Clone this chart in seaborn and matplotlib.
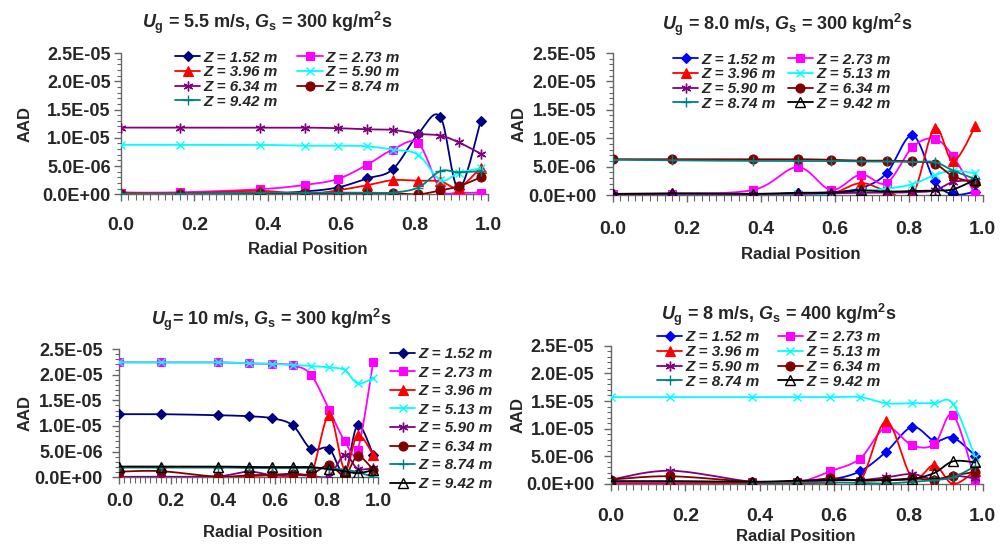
import numpy as np
import pandas as pd
import matplotlib
matplotlib.use("Agg")
import matplotlib.pyplot as plt
import seaborn as sns
from matplotlib.lines import Line2D
from matplotlib.ticker import MultipleLocator, FuncFormatter

# ---------------- data (AAD values in units of 1e-6) ----------------
radial = [0.0, 0.16, 0.38, 0.50, 0.59, 0.67, 0.74, 0.81, 0.87, 0.92, 0.98]

# Panel A : Ug = 5.5 m/s, Gs = 300
a_labels = ["1.52", "2.73", "3.96", "5.90", "6.34", "8.74", "9.42"]
a_s1 = [0.1, 0.1, 0.1, 0.5, 1.2, 2.8, 4.4, 10.7, 13.7, 1.0, 13.0]
a_s2 = [0.3, 0.35, 0.9, 1.65, 2.7, 5.2, 7.9, 9.0, 0.9, 0.3, 0.3]
a_s3 = [0.3, 0.2, 0.6, 0.0, 0.7, 1.6, 2.5, 2.4, 2.3, 1.2, 4.7]
a_s4 = [8.75, 8.75, 8.75, 8.6, 8.6, 8.5, 7.9, 7.0, 2.5, 3.8, 4.6]
a_s5 = [11.8, 11.8, 11.8, 11.8, 11.7, 11.5, 11.4, 10.7, 10.4, 9.2, 7.2]
a_s6 = [0.0, 0.1, 0.2, 0.2, 0.2, 0.2, 0.2, 0.0, 0.7, 1.4, 3.0]
a_s7 = [0.1, 0.1, 0.3, 0.3, 0.3, 0.3, 0.3, 1.2, 4.1, 3.9, 4.1]

# Panel B : Ug = 8.0 m/s, Gs = 300
b_labels = ["1.52", "2.73", "3.96", "5.13", "5.90", "6.34", "8.74", "9.42"]
b_s1 = [0.1, 0.1, 0.1, 0.3, 0.5, 1.2, 3.8, 10.5, 2.5, 0.1, 0.6]
b_s2 = [0.1, 0.2, 0.9, 4.9, 0.9, 3.6, 2.1, 8.4, 9.9, 6.8, 0.1]
b_s3 = [0.1, 0.1, 0.1, 0.0, 0.2, 2.1, 0.7, 0.0, 11.8, 6.0, 12.1]
b_s4 = [0.0, 0.0, 0.0, 0.1, 0.2, 0.7, 1.1, 1.9, 3.5, 4.3, 3.8]
b_s5 = [0.1, 0.2, 0.2, 0.2, 0.3, 0.4, 0.4, 0.5, 0.8, 2.3, 2.6]
b_s6 = [6.3, 6.3, 6.3, 6.3, 6.2, 6.05, 6.05, 5.9, 5.5, 3.3, 2.1]
b_s7 = [6.2, 6.1, 6.0, 6.0, 6.0, 5.9, 5.9, 5.8, 5.8, 4.3, 2.8]
b_s8 = [0.2, 0.3, 0.2, 0.4, 0.4, 0.8, 0.6, 0.7, 0.8, 1.0, 2.7]

# Panel C : Ug = 10 m/s, Gs = 300
c_labels = ["1.52", "2.73", "3.96", "5.13", "5.90", "6.34", "8.74", "9.42"]
c_s1 = [12.3, 12.3, 12.1, 11.9, 11.5, 10.1, 5.5, 5.6, 0.8, 10.1, 4.4]
c_s2 = [22.4, 22.4, 22.4, 22.2, 22.1, 21.8, 20.0, 13.2, 7.1, 5.3, 22.4]
c_s3 = [0.0, 0.0, 0.1, 0.2, 0.4, 0.1, 0.5, 12.1, 1.5, 8.2, 4.4]
c_s4 = [22.4, 22.4, 22.4, 22.2, 22.1, 21.9, 21.7, 21.4, 20.9, 18.3, 19.3]
c_s5 = [0.1, 0.1, 0.2, 1.1, 0.4, 0.5, 0.3, 0.3, 4.4, 1.7, 1.8]
c_s6 = [1.1, 1.2, 0.1, 0.4, 0.5, 0.7, 0.6, 2.4, 0.4, 4.1, 1.5]
c_s7 = [1.9, 1.9, 1.9, 1.8, 1.8, 1.8, 1.8, 1.7, 1.5, 1.0, 0.1]
c_s8 = [2.1, 2.1, 2.1, 2.0, 2.0, 2.0, 2.0, 1.6, 1.2, 0.8, 1.4]

# Panel D : Ug = 8 m/s, Gs = 400
d_labels = ["1.52", "2.73", "3.96", "5.13", "5.90", "6.34", "8.74", "9.42"]
d_s1 = [0.3, 0.2, 0.2, 0.4, 0.8, 2.3, 5.8, 10.3, 7.8, 8.4, 5.1]
d_s2 = [0.3, 0.3, 0.3, 0.3, 2.3, 4.6, 10.2, 7.0, 7.2, 12.5, 0.6]
d_s3 = [0.0, 0.0, 0.2, 0.1, 0.0, 0.5, 11.3, 1.2, 3.4, 0.0, 2.4]
d_s4 = [15.7, 15.7, 15.7, 15.7, 15.7, 15.7, 14.6, 14.6, 14.6, 14.5, 4.8]
d_s5 = [0.8, 2.4, 0.4, 0.5, 0.7, 0.7, 1.2, 1.8, 0.8, 1.5, 1.0]
d_s6 = [0.8, 1.4, 0.4, 0.4, 1.0, 0.6, 0.7, 1.0, 0.8, 1.5, 2.2]
d_s7 = [0.5, 0.5, 0.3, 0.3, 0.3, 0.2, 0.1, 0.4, 0.7, 1.2, 3.2]
d_s8 = [0.5, 0.5, 0.4, 0.6, 0.7, 0.7, 0.7, 0.9, 2.0, 4.1, 3.9]

titles = [r"$U_\mathrm{g}$ = 5.5 m/s, $G_\mathrm{s}$ = 300 kg/m$^\mathrm{2}$s",
          r"$U_\mathrm{g}$ = 8.0 m/s, $G_\mathrm{s}$ = 300 kg/m$^\mathrm{2}$s",
          r"$U_\mathrm{g}$= 10 m/s, $G_\mathrm{s}$ = 300 kg/m$^\mathrm{2}$s",
          r"$U_\mathrm{g}$ = 8 m/s, $G_\mathrm{s}$ = 400 kg/m$^\mathrm{2}$s"]

# ---------------- styles ----------------
sns.set_theme(style="white")
plt.rcParams["font.family"] = ["Liberation Sans", "DejaVu Sans"]
plt.rcParams["font.weight"] = "bold"
plt.rcParams["mathtext.fontset"] = "custom"
plt.rcParams["mathtext.rm"] = "Liberation Sans:bold"
plt.rcParams["mathtext.it"] = "Liberation Sans:bold:italic"
plt.rcParams["mathtext.bf"] = "Liberation Sans:bold"

STAR = (6, 2, 0)
# (color, marker, size, filled)
style_a = [("#000080", "D", 5.5, True), ("#FF00FF", "s", 6, True), ("#FF0000", "^", 7, True),
           ("#00FFFF", "x", 6, False), ("#800080", STAR, 7, False), ("#800000", "o", 6.5, True),
           ("#008080", "+", 7, False)]
style_b = [("#0000FF", "D", 5.5, True), ("#FF00FF", "s", 6, True), ("#FF0000", "^", 7, True),
           ("#00FFFF", "x", 6, False), ("#800080", STAR, 7, False), ("#800000", "o", 6.5, True),
           ("#008080", "+", 7, False), ("#000000", "^", 7, "open")]
style_c = [("#000080",) + style_b[0][1:]] + style_b[1:]


def smooth(x, y, n=18):
    P = np.column_stack([np.asarray(x, float), np.asarray(y, float)])
    E = np.vstack([P[0], P, P[-1]])
    out = []
    for i in range(len(P) - 1):
        p0, p1, p2, p3 = E[i], E[i + 1], E[i + 2], E[i + 3]
        c1 = p1 + (p2 - p0) / 6.0
        c2 = p2 - (p3 - p1) / 6.0
        t = np.linspace(0, 1, n, endpoint=(i == len(P) - 2))[:, None]
        out.append((1 - t) ** 3 * p1 + 3 * (1 - t) ** 2 * t * c1 + 3 * (1 - t) * t ** 2 * c2 + t ** 3 * p2)
    return np.vstack(out)


fig = plt.figure(figsize=(10.06, 5.47), dpi=100)

panels = [
    dict(rect=[121/1006, 1-194.3/547, 367/1006, 141.3/547], labels=a_labels,
         series=[a_s1, a_s2, a_s3, a_s4, a_s5, a_s6, a_s7], styles=style_a,
         title_xy=(0.398, 1.212), ylab_x=-0.24, xlab=(0.508, -0.338), xpad=11, ypad=2.5,
         leg=dict(ncol=2, anchor=(175/1006, 1-50.5/547), colsp=1.3)),
    dict(rect=[612.7/1006, 1-195/547, 370/1006, 142/547], labels=b_labels,
         series=[b_s1, b_s2, b_s3, b_s4, b_s5, b_s6, b_s7, b_s8], styles=style_b,
         title_xy=(0.471, 1.197), ylab_x=-0.234, xlab=(0.508, -0.366), xpad=14, ypad=7,
         leg=dict(ncol=2, anchor=(673/1006, 1-52.5/547), colsp=0.8)),
    dict(rect=[119.3/1006, 1-477.3/547, 259/1006, 128.3/547], labels=c_labels,
         series=[c_s1, c_s2, c_s3, c_s4, c_s5, c_s6, c_s7, c_s8], styles=style_c,
         title_xy=(0.588, 1.226), ylab_x=-0.333, xlab=(0.553, -0.372), xpad=6.5, ypad=7,
         leg=dict(ncol=1, anchor=(390/1006, 1-347/547), colsp=1.0)),
    dict(rect=[611/1006, 1-484/547, 371.7/1006, 138.3/547], labels=d_labels,
         series=[d_s1, d_s2, d_s3, d_s4, d_s5, d_s6, d_s7, d_s8], styles=style_b,
         title_xy=(0.452, 1.222), ylab_x=-0.231, xlab=(0.497, -0.323), xpad=12, ypad=7,
         leg=dict(ncol=2, anchor=(657/1006, 1-330.5/547), colsp=1.2)),
]

axis_col = "#666666"
for k, p in enumerate(panels):
    ax = fig.add_axes(p["rect"])
    handles = []
    for j, (lab, vals, st) in enumerate(zip(p["labels"], p["series"], p["styles"])):
        col, mk, ms, filled = st
        yv = [v * 1e-6 for v in vals]
        sm = smooth(radial, yv)
        df = pd.DataFrame({"x": sm[:, 0], "y": sm[:, 1]})
        sns.lineplot(data=df, x="x", y="y", ax=ax, color=col, lw=1.3, sort=False,
                     estimator=None, zorder=3 + 2 * j, legend=False)
        mfc = col if filled is True else "none"
        mew = 1.0 if filled is not True else 0.8
        dm = pd.DataFrame({"x": radial, "y": yv})
        sns.lineplot(data=dm, x="x", y="y", ax=ax, color=col, linestyle="none", marker=mk,
                     markersize=ms, markerfacecolor=mfc, markeredgecolor=col,
                     markeredgewidth=mew, sort=False, estimator=None,
                     zorder=4 + 2 * j, legend=False)
        handles.append(Line2D([], [], color=col, lw=1.3, marker=mk, markersize=ms,
                              markerfacecolor=mfc, markeredgecolor=col, markeredgewidth=mew,
                              label=f"Z = {lab} m"))
    ax.set_xlim(0, 1.0)
    ax.set_ylim(0, 2.5e-5)
    ax.xaxis.set_major_locator(MultipleLocator(0.2))
    ax.xaxis.set_minor_locator(MultipleLocator(0.02))
    ax.yaxis.set_major_locator(MultipleLocator(5e-6))
    ax.yaxis.set_minor_locator(MultipleLocator(1e-6))
    ax.xaxis.set_major_formatter(FuncFormatter(lambda v, pos: f"{v:.1f}"))
    ax.yaxis.set_major_formatter(FuncFormatter(lambda v, pos: f"{v:.1E}"))
    sns.despine(ax=ax)
    for s in ("left", "bottom"):
        ax.spines[s].set_color(axis_col)
        ax.spines[s].set_linewidth(1.0)
    ax.tick_params(axis="x", which="major", direction="out", length=5, width=1,
                   color=axis_col, labelsize=14, pad=p["xpad"], bottom=True)
    ax.tick_params(axis="x", which="minor", direction="out", length=4, width=0.8,
                   color=axis_col, bottom=True)
    ax.tick_params(axis="y", which="major", direction="out", length=5, width=1,
                   color=axis_col, labelsize=13, pad=p["ypad"], left=True)
    ax.tick_params(axis="y", which="minor", direction="out", length=3, width=0.8,
                   color=axis_col, left=True)
    for t in ax.get_xticklabels() + ax.get_yticklabels():
        t.set_fontweight("bold")
    ax.set_xlabel("Radial Position", fontsize=12, fontweight="bold")
    ax.set_ylabel("AAD", fontsize=12, fontweight="bold")
    ax.xaxis.set_label_coords(*p["xlab"])
    ax.yaxis.set_label_coords(p["ylab_x"], 0.5)
    ax.text(p["title_xy"][0], p["title_xy"][1], titles[k], transform=ax.transAxes,
            ha="center", va="center", fontsize=13, fontweight="bold")
    lg = p["leg"]
    if lg["ncol"] == 2:
        hs = handles[0::2] + handles[1::2]
        lspace = 0.05
    else:
        hs = handles
        lspace = 0.3
    fig.legend(handles=hs, ncol=lg["ncol"], loc="upper left",
               bbox_to_anchor=lg["anchor"], bbox_transform=fig.transFigure,
               frameon=False, borderpad=0, borderaxespad=0, handlelength=1.65,
               handletextpad=0.2, columnspacing=lg["colsp"], labelspacing=lspace,
               prop=dict(family="Liberation Sans", weight="bold", style="italic", size=11))

fig.savefig("out.png", dpi=100)
